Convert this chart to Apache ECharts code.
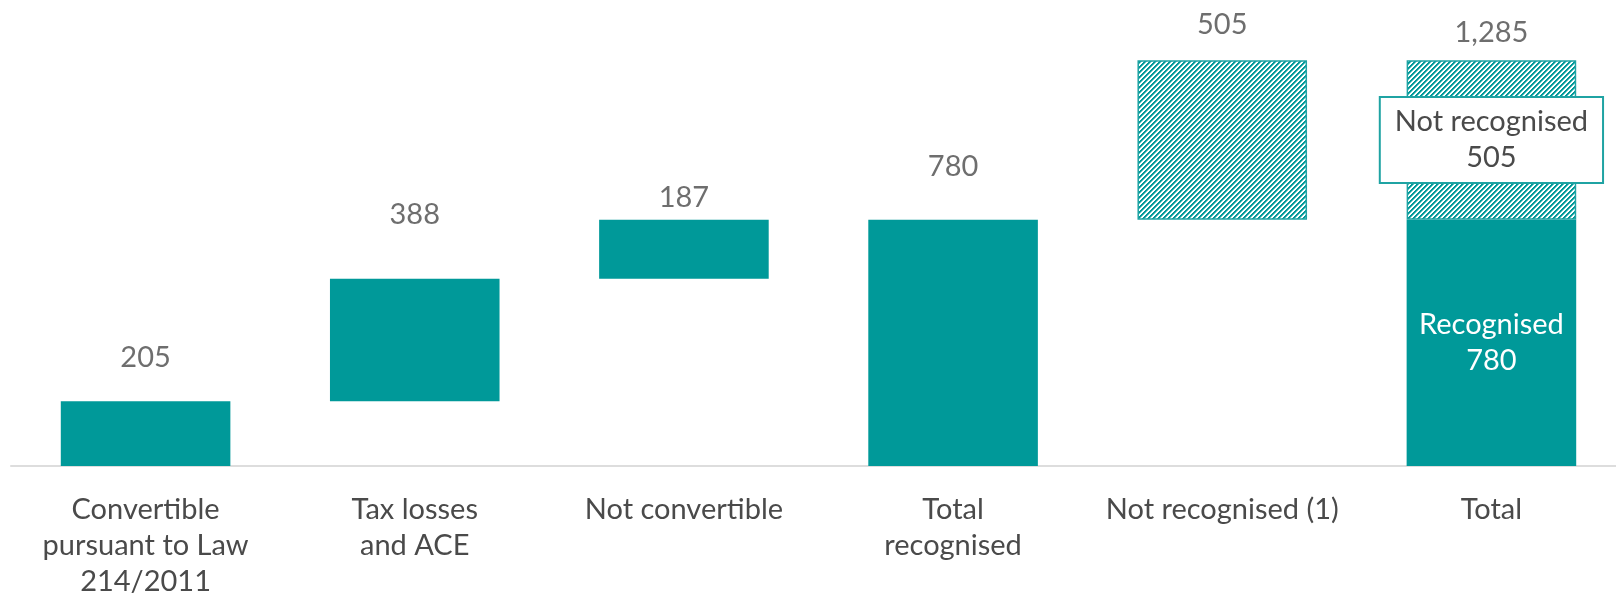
<!DOCTYPE html>
<html>
<head>
<meta charset="utf-8">
<script src="https://cdn.jsdelivr.net/npm/echarts@6/dist/echarts.min.js"></script>
<style>
  html, body { margin: 0; padding: 0; background: #ffffff; overflow: hidden; }
  #chart { width: 1626px; height: 600px; }
</style>
</head>
<body>
<div id="chart"></div>
<script>
// Deferred tax assets bridge (EUR m)
const categories = [
  'Convertible\npursuant to Law\n214/2011',
  'Tax losses\nand ACE',
  'Not convertible',
  'Total\nrecognised',
  'Not recognised (1)',
  'Total'
];
const recognisedSteps = [205, 388, 187];   // components of recognised DTA
const totalRecognised = 780;
const notRecognised = 505;
const grandTotal = 1285;

const TEAL = '#009999';
const TEXT = '#4a4a4a';
const FONT = 'Lato, "Open Sans", sans-serif';

// Diagonal hatch used for the not-recognised amounts
function hatchPattern() {
  const n = 5;
  const c = document.createElement('canvas');
  c.width = n; c.height = n;
  const ctx = c.getContext('2d');
  ctx.fillStyle = '#ffffff';
  ctx.fillRect(0, 0, n, n);
  for (let x = 0; x < n; x++) {
    for (let y = 0; y < n; y++) {
      const k = (x + y) % n;
      if (k === 0 || k === 1) { ctx.fillStyle = TEAL; ctx.fillRect(x, y, 1, 1); }
      else if (k === 2) { ctx.fillStyle = '#66c2c2'; ctx.fillRect(x, y, 1, 1); }
    }
  }
  return { image: c, repeat: 'repeat' };
}

// Stacked waterfall: invisible base, solid recognised part, hatched not-recognised part
const base = [];
let running = 0;
recognisedSteps.forEach(v => { base.push(running); running += v; });
base.push(0, totalRecognised, 0);

const solid = recognisedSteps.concat([totalRecognised, '-', totalRecognised]);
const hatched = ['-', '-', '-', '-', notRecognised, notRecognised];

const barTops = base.map((b, i) =>
  b + (solid[i] === '-' ? 0 : solid[i]) + (hatched[i] === '-' ? 0 : hatched[i]));
const topValues = recognisedSteps.concat([totalRecognised, notRecognised, grandTotal]);
// gap between each bar and its value label
const labelGap = [27, 47, 5, 36, 19, 11];

const fmt = v => v.toLocaleString('en-US');
const pattern = hatchPattern();

const chart = echarts.init(document.getElementById('chart'), null, { renderer: 'canvas' });
chart.setOption({
  backgroundColor: '#ffffff',
  animation: false,
  textStyle: { fontFamily: FONT },
  grid: { left: 11, right: 0, top: 24, bottom: 131, containLabel: false },
  xAxis: {
    type: 'category',
    data: categories,
    axisTick: { show: false },
    axisLine: { show: true, lineStyle: { color: '#dddddd', width: 2 } },
    axisLabel: {
      interval: 0, margin: 26, color: TEXT, fontSize: 29, lineHeight: 36,
      fontFamily: FONT, align: 'center'
    }
  },
  yAxis: {
    type: 'value', min: 0, max: 1400, show: false,
    splitLine: { show: false }
  },
  series: [
    {
      name: 'base', type: 'bar', stack: 'w', barWidth: '63%',
      itemStyle: { color: 'transparent' },
      data: base, silent: true
    },
    {
      name: 'recognised', type: 'bar', stack: 'w', barWidth: '63%',
      itemStyle: { color: TEAL },
      data: solid.map((v, i) => i === 5 ? {
        value: v,
        label: {
          show: true, position: 'inside', formatter: 'Recognised\n' + fmt(v),
          color: '#ffffff', fontSize: 29, lineHeight: 36, fontFamily: FONT
        }
      } : v)
    },
    {
      name: 'not recognised', type: 'bar', stack: 'w', barWidth: '63%',
      itemStyle: { color: pattern, borderColor: '#1fa3a3', borderWidth: 1.5 },
      data: hatched.map((v, i) => i === 5 ? {
        value: v,
        label: {
          show: true, position: 'inside', formatter: 'Not recognised\n' + fmt(v),
          color: TEXT, fontSize: 29, lineHeight: 36, fontFamily: FONT,
          backgroundColor: '#ffffff', borderColor: '#1fa3a3', borderWidth: 2,
          padding: [6, 14, 6, 14]
        }
      } : v)
    },
    {
      name: 'totals', type: 'scatter', symbolSize: 0, silent: true, z: 5,
      data: barTops.map((v, i) => ({
        value: v,
        label: {
          show: true, position: 'top', distance: labelGap[i],
          formatter: fmt(topValues[i]),
          color: TEXT, fontSize: 29, lineHeight: 34, fontFamily: FONT
        }
      }))
    }
  ]
});
</script>
</body>
</html>
